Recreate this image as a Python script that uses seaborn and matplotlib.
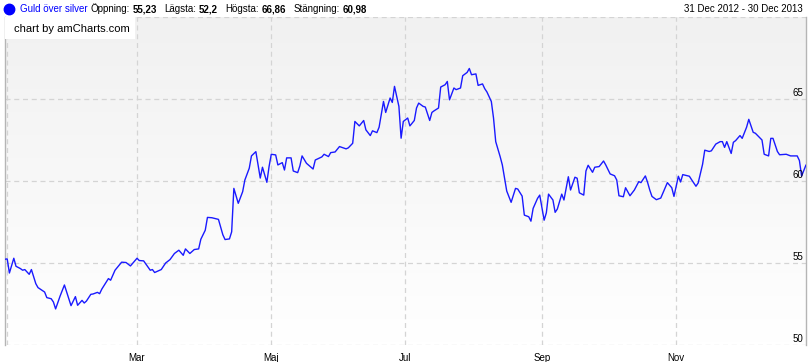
import numpy as np
import pandas as pd
import matplotlib
matplotlib.use('Agg')
import matplotlib.pyplot as plt
from matplotlib.colors import LinearSegmentedColormap
from matplotlib.lines import Line2D
from matplotlib.patches import Rectangle
import seaborn as sns

# days after 31 Dec 2012, and the gold/silver ratio
days = [0, 1, 2, 4, 5, 7, 8, 9, 11, 12, 14, 15, 18, 19, 21, 22, 23, 25, 27, 30,
        32, 33, 35, 36, 37, 39, 40, 42, 43, 44, 47, 48, 50, 53, 55, 57, 60, 61, 63, 66,
        67, 68, 71, 73, 75, 77, 79, 81, 82, 84, 86, 88, 89, 91, 92, 94, 97, 99, 100, 102,
        103, 104, 106, 108, 109, 111, 112, 114, 116, 117, 119, 120, 121, 123, 124, 126, 127, 128, 130, 131,
        133, 134, 135, 137, 140, 141, 144, 145, 147, 148, 150, 152, 155, 156, 158, 159, 161, 163, 164, 166,
        167, 169, 170, 172, 173, 175, 176, 177, 179, 180, 181, 183, 184, 186, 187, 188, 190, 191, 193, 194,
        195, 197, 198, 200, 201, 202, 204, 205, 207, 208, 210, 211, 212, 214, 215, 217, 218, 219, 221, 222,
        223, 225, 226, 228, 229, 230, 232, 233, 235, 236, 238, 239, 240, 242, 243, 245, 246, 247, 249, 250,
        251, 253, 254, 256, 257, 259, 260, 261, 263, 264, 265, 267, 268, 270, 272, 273, 275, 277, 278, 279,
        281, 282, 284, 286, 288, 289, 291, 292, 293, 294, 296, 298, 301, 303, 304, 306, 307, 308, 311, 312,
        314, 315, 317, 318, 320, 321, 323, 325, 326, 327, 328, 330, 331, 332, 334, 335, 337, 338, 340, 341,
        344, 345, 347, 348, 349, 351, 352, 355, 357, 360, 361, 362, 364]
ratio = [55.23, 55.25, 54.39, 55.29, 54.80, 54.66, 54.56, 54.60, 54.31, 54.60, 53.74, 53.50, 53.23, 52.89, 52.82, 52.62, 52.20, 52.97, 53.66, 52.40,
         52.95, 52.42, 52.72, 52.56, 52.68, 53.09, 53.11, 53.21, 53.13, 53.41, 54.05, 53.95, 54.56, 55.05, 55.03, 54.82, 55.29, 55.15, 55.13, 54.56,
         54.60, 54.42, 54.60, 55.00, 55.21, 55.58, 55.78, 55.47, 55.86, 55.58, 55.82, 55.86, 56.45, 57.00, 57.78, 57.76, 57.66, 56.72, 56.43, 56.47,
         56.90, 59.55, 58.64, 59.35, 60.06, 60.78, 61.53, 61.79, 60.18, 60.84, 59.92, 60.88, 61.63, 61.59, 60.98, 61.12, 60.67, 61.41, 61.41, 60.61,
         60.51, 60.92, 61.53, 61.08, 60.73, 61.28, 61.47, 61.63, 61.49, 61.73, 61.77, 62.10, 61.96, 62.02, 62.30, 63.63, 63.36, 63.69, 63.12, 62.77,
         63.06, 62.95, 63.28, 64.85, 64.18, 65.06, 64.79, 65.77, 64.55, 62.61, 63.63, 63.84, 63.36, 63.69, 64.45, 64.75, 64.55, 64.51, 63.69, 64.18,
         64.28, 64.45, 65.73, 65.87, 66.07, 64.95, 65.67, 65.57, 65.67, 66.42, 66.62, 66.86, 66.48, 66.53, 65.83, 65.92, 65.63, 65.43, 64.85, 63.84,
         62.40, 61.49, 60.98, 59.39, 59.04, 58.70, 59.55, 59.51, 59.08, 57.92, 57.82, 57.55, 58.33, 58.94, 59.14, 57.61, 58.06, 59.20, 58.84, 58.09,
         58.29, 59.20, 58.84, 60.26, 59.45, 60.23, 60.17, 59.28, 59.14, 60.61, 60.96, 60.53, 60.84, 60.88, 61.22, 60.98, 60.43, 60.32, 60.06, 59.10,
         59.04, 59.59, 59.10, 59.45, 59.96, 59.90, 60.31, 59.92, 59.45, 59.06, 58.86, 58.96, 59.90, 59.59, 59.06, 60.29, 59.94, 60.39, 60.29, 60.08,
         59.68, 59.88, 61.02, 61.88, 61.80, 61.84, 62.25, 62.40, 62.40, 62.05, 62.40, 61.68, 62.36, 62.46, 62.77, 62.60, 63.28, 63.76, 62.97, 62.91,
         62.50, 61.63, 61.53, 62.60, 62.60, 61.80, 61.60, 61.63, 61.53, 61.53, 61.25, 60.30, 60.98]

month_ticks = ['2013-01-01', '2013-03-01', '2013-05-01', '2013-07-01', '2013-09-01', '2013-11-01']
month_labels = ['', 'Mar', 'Maj', 'Jul', 'Sep', 'Nov']
y_ticks = [50, 55, 60, 65, 70]
y_labels = ['50', '55', '60', '65', '']

df = pd.DataFrame({'date': pd.Timestamp('2012-12-31') + pd.to_timedelta(days, unit='D'),
                   'ratio': ratio})

sns.set_style('white')
plt.rcParams['font.family'] = ['Liberation Sans', 'DejaVu Sans']

W, H = 812, 362
pw, ph = 801, 328
fig = plt.figure(figsize=(W / 100, H / 100), dpi=100)
ax = fig.add_axes([5 / W, 1 - 345 / H, pw / W, ph / H])

# soft grey-to-white background inside the plot
grad = LinearSegmentedColormap.from_list('bg', ['#ffffff', '#f1f1f1'])
ax.imshow(np.linspace(0, 1, 100)[:, None], extent=[0, 1, 0, 1], transform=ax.transAxes,
          cmap=grad, aspect='auto', zorder=0, origin='lower')

sns.lineplot(data=df, x='date', y='ratio', ax=ax, color='#1a1aff', linewidth=1.0, zorder=3)

ax.set_xlim(pd.Timestamp('2012-12-31'), pd.Timestamp('2013-12-30'))
ax.set_ylim(50, 70)
ax.set_xlabel('')
ax.set_ylabel('')

for d in month_ticks:
    ax.axvline(pd.Timestamp(d), color='#d4d4d4', linewidth=0.9, linestyle=(0, (4, 3)), zorder=1)
for v in y_ticks:
    ax.axhline(v, color='#d4d4d4', linewidth=0.9, linestyle=(0, (4, 3)), zorder=1)

ax.set_xticks(pd.to_datetime(month_ticks))
ax.set_xticklabels(month_labels, fontsize=7, color='#000000')
ax.tick_params(axis='x', length=0, pad=6)
ax.set_yticks([])

for v, lab in zip(y_ticks, y_labels):
    ax.annotate(lab, xy=(1, v), xycoords=ax.get_yaxis_transform(), xytext=(-2, 4),
                textcoords='offset points', ha='right', va='center', fontsize=7, color='#000000')

for side in ['top', 'bottom']:
    ax.spines[side].set_visible(False)
for side in ['left', 'right']:
    ax.spines[side].set_color('#b5b5b5')
    ax.spines[side].set_linewidth(1)

# credit box in the top-left corner of the plot
ax.add_patch(Rectangle((0, 1), 130 / pw, -22 / ph, transform=ax.transAxes,
                       facecolor='white', edgecolor='none', zorder=5))
ax.text(9 / pw, 1 - 12 / ph, 'chart by amCharts.com', transform=ax.transAxes,
        ha='left', va='center', fontsize=8, color='#000000', zorder=6)

# header line
renderer = fig.canvas.get_renderer()
yh = 1 - 9 / H
fig.add_artist(Line2D([9 / W], [yh], marker='o', markersize=7.5, color='#0000ff',
                      transform=fig.transFigure))

parts = [('Guld över silver', '#0000ff', 'normal', 20),
         ('Öppning:', '#000000', 'normal', 3),
         ('55,23', '#000000', 'bold', 3),
         ('Lägsta:', '#000000', 'normal', 7),
         ('52,2', '#000000', 'bold', 3),
         ('Högsta:', '#000000', 'normal', 7),
         ('66,86', '#000000', 'bold', 3),
         ('Stängning:', '#000000', 'normal', 7),
         ('60,98', '#000000', 'bold', 3)]
x = 0
for txt, col, wt, gap in parts:
    x += gap
    t = fig.text(x / W, yh, txt, ha='left', va='center', fontsize=7, color=col, fontweight=wt)
    x = t.get_window_extent(renderer).x1

fig.text(803 / W, yh, '31 Dec 2012 - 30 Dec 2013', ha='right', va='center', fontsize=7, color='#000000')

fig.savefig('out.png', dpi=100)
